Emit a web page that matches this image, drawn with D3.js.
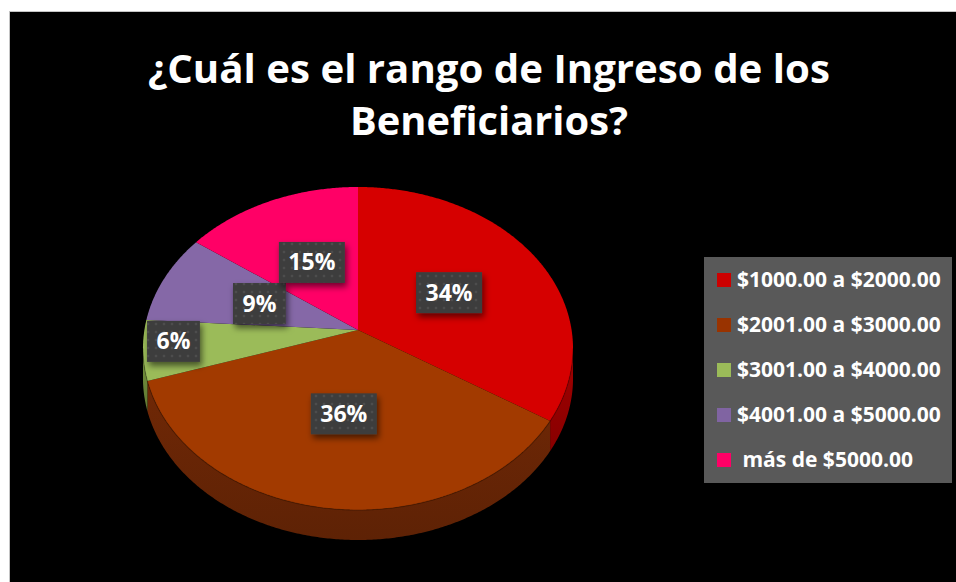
<!DOCTYPE html>
<html>
<head>
<meta charset="utf-8">
<script src="https://cdn.jsdelivr.net/npm/d3@7"></script>
<style>
  html, body { margin: 0; padding: 0; background: #ffffff; }
  svg { display: block; }
  text { font-family: "Open Sans", "DejaVu Sans", sans-serif; font-weight: bold; }
</style>
</head>
<body>
<svg id="chart" width="956" height="582"></svg>
<script>
// ---- data ----
const titleLines = ["¿Cuál es el rango de Ingreso de los", "Beneficiarios?"];
const categories = ["$1000.00 a $2000.00", "$2001.00 a $3000.00", "$3001.00 a $4000.00", "$4001.00 a $5000.00", " más de $5000.00"];
const values = [34, 36, 6, 9, 15];
const valueLabels = ["34%", "36%", "6%", "9%", "15%"];
const topColors = ["#D60000", "#A23A00", "#9BBB59", "#8568A7", "#FF0066"];
const sideColors = ["#9A0000", "#6A2606", "#6E8A3A", "#5E4A7A", "#B80048"];
const legendColors = ["#CC0000", "#993300", "#9BBB59", "#8064A2", "#FF0066"];

// ---- layout ----
const W = 956, H = 582;
const svg = d3.select("#chart");
const defs = svg.append("defs");

// frame
svg.append("rect").attr("x", 9.5).attr("y", 11.5).attr("width", W - 9).attr("height", H - 11)
  .attr("fill", "#000").attr("stroke", "#c4c4c4").attr("stroke-width", 1);

// title
function fitText(sel, target) {
  const w = sel.node().getComputedTextLength();
  const fs = parseFloat(sel.attr("font-size"));
  sel.attr("font-size", fs * target / w);
}
const t1 = svg.append("text").attr("x", 489).attr("y", 83).attr("text-anchor", "middle")
  .attr("fill", "#fff").attr("font-size", 40).text(titleLines[0]);
fitText(t1, 682);
const t2 = svg.append("text").attr("x", 489).attr("y", 135).attr("text-anchor", "middle")
  .attr("fill", "#fff").attr("font-size", 40).text(titleLines[1]);
fitText(t2, 278);

// ---- pie projection (perspective-tilted disc) ----
const cx = 358, cy = 330;
const A = 213.6, B = 159.4, p = 0.1145, depth = 30;
function proj(theta, r, dy = 0) {
  const u = r * Math.sin(theta), v = -r * Math.cos(theta);
  const d = 1 - p * v;
  return [cx + A * u / d, cy + B * v / d + dy];
}
const pie = d3.pie().sort(null).value(d => d)(values);

function arcPoints(a0, a1, dy) {
  const n = Math.max(2, Math.ceil((a1 - a0) / (Math.PI / 360)));
  return d3.range(n + 1).map(i => proj(a0 + (a1 - a0) * i / n, 1, dy));
}
const line = d3.line();

// side gradient
sideColors.forEach((c, i) => {
  const g = defs.append("linearGradient").attr("id", "side" + i)
    .attr("x1", 0).attr("y1", 0).attr("x2", 0).attr("y2", 1);
  g.append("stop").attr("offset", "0%").attr("stop-color", d3.color(c).brighter(0.15));
  g.append("stop").attr("offset", "100%").attr("stop-color", d3.color(c).darker(0.35));
});

// visible side range: where outline is the front (lower) half
const frontStart = Math.PI - Math.acos(p), frontEnd = Math.PI + Math.acos(p);
const sides = svg.append("g");
pie.forEach((s, i) => {
  const a0 = Math.max(s.startAngle, frontStart), a1 = Math.min(s.endAngle, frontEnd);
  if (a1 <= a0) return;
  const top = arcPoints(a0, a1, 0);
  const bot = arcPoints(a0, a1, depth).reverse();
  sides.append("path").attr("d", line(top.concat(bot)) + "Z")
    .attr("fill", `url(#side${i})`);
});

// top faces
const tops = svg.append("g");
pie.forEach((s, i) => {
  const pts = [[cx, cy]].concat(arcPoints(s.startAngle, s.endAngle, 0));
  tops.append("path").attr("d", line(pts) + "Z").attr("fill", topColors[i]);
});
// subtle rim line between top and side
svg.append("path").attr("d", line(arcPoints(frontStart, frontEnd, 0)))
  .attr("fill", "none").attr("stroke", "rgba(0,0,0,0.25)").attr("stroke-width", 1.2);

// ---- data labels ----
const pat = defs.append("pattern").attr("id", "dots").attr("patternUnits", "userSpaceOnUse")
  .attr("width", 8).attr("height", 8);
pat.append("rect").attr("width", 8).attr("height", 8).attr("fill", "#3e3e3e");
pat.append("circle").attr("cx", 4).attr("cy", 4).attr("r", 1.3).attr("fill", "#4d4d4d");
const sh = defs.append("filter").attr("id", "shadow").attr("x", "-30%").attr("y", "-30%")
  .attr("width", "160%").attr("height", "170%");
sh.append("feDropShadow").attr("dx", 2).attr("dy", 4).attr("stdDeviation", 3)
  .attr("flood-color", "#000").attr("flood-opacity", 0.55);

const labels = svg.append("g");
pie.forEach((s, i) => {
  const mid = (s.startAngle + s.endAngle) / 2;
  const r = (s.endAngle - s.startAngle) < 0.08 * 2 * Math.PI ? 0.86 : 0.5;
  let [x, y] = proj(mid, r);
  if (r > 0.8) y -= 6;
  const g = labels.append("g");
  const rect = g.append("rect").attr("fill", "url(#dots)").attr("filter", "url(#shadow)");
  const t = g.append("text").attr("x", x).attr("y", y + 8).attr("text-anchor", "middle")
    .attr("fill", "#fff").attr("font-size", 23).text(valueLabels[i]);
  const tw = t.node().getComputedTextLength();
  const bw = tw + 19, bh = 41;
  rect.attr("x", x - bw / 2).attr("y", y - bh / 2).attr("width", bw).attr("height", bh);
});

// ---- legend ----
const lg = svg.append("g");
lg.append("rect").attr("x", 704).attr("y", 257).attr("width", 248).attr("height", 226).attr("fill", "#595959");
const ly = d3.scalePoint().domain(categories).range([280, 460]);
categories.forEach((c, i) => {
  const y = ly(c);
  lg.append("rect").attr("x", 717).attr("y", y - 7).attr("width", 14).attr("height", 14).attr("fill", legendColors[i]);
  const t = lg.append("text").attr("x", 737).attr("y", y + 6.5).attr("fill", "#fff")
    .attr("font-size", 17).attr("xml:space", "preserve").style("white-space", "pre").text(c);
});
// fit legend font so widest entry matches
const lt = lg.selectAll("text").nodes();
const w0 = lt[0].getComputedTextLength();
const lfs = 17 * 204 / w0;
lg.selectAll("text").attr("font-size", lfs);
</script>
</body>
</html>
